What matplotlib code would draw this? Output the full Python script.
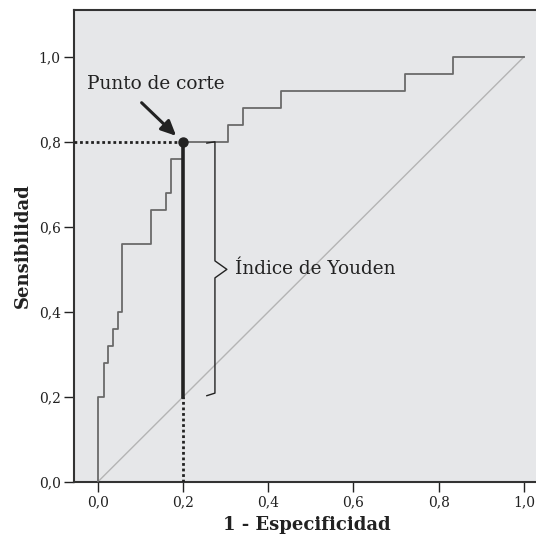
#!/usr/bin/env python3
"""ROC curve with the Youden cut-off point marked."""

import matplotlib

matplotlib.use("Agg")
import matplotlib.pyplot as plt

# ROC steps (1 - specificity, sensitivity)
fpr = [0.0, 0.0, 0.015, 0.025, 0.036, 0.048, 0.058, 0.126, 0.160, 0.171, 0.200,
       0.305, 0.340, 0.429, 0.720, 0.833, 1.0]
tpr = [0.0, 0.20, 0.28, 0.32, 0.36, 0.40, 0.56, 0.64, 0.68, 0.76, 0.80,
       0.84, 0.88, 0.92, 0.96, 1.00, 1.00]

cut_fpr = 0.2
cut_sens = 0.8

ticks = [0.0, 0.2, 0.4, 0.6, 0.8, 1.0]
tick_labels = ["0,0", "0,2", "0,4", "0,6", "0,8", "1,0"]

plt.rcParams["font.family"] = ["DejaVu Serif"]

BG = "#E6E7E9"
CURVE = "#6A6A6A"
DIAG = "#B4B4B4"
INK = "#222222"

fig = plt.figure(figsize=(5.36, 5.42), dpi=100)
ax = fig.add_axes([74 / 536, 60 / 542, 466 / 536, 472 / 542])
ax.set_facecolor(BG)

x0, x1 = -0.0556, 1.0375
y0, y1 = 0.0, 1.11
ax.set_xlim(x0, x1)
ax.set_ylim(y0, y1)

# chance line and ROC curve
ax.plot([0, 1], [0, 1], color=DIAG, linewidth=1.0, zorder=2)
ax.plot(fpr, tpr, drawstyle="steps-post", color=CURVE, linewidth=1.3, zorder=3)

# cut-off guides
dots = (0, (1, 1))
ax.plot([x0, cut_fpr], [cut_sens, cut_sens], color=INK, linewidth=2.0, linestyle=dots, zorder=4)
ax.plot([cut_fpr, cut_fpr], [y0, cut_fpr], color=INK, linewidth=2.0, linestyle=dots, zorder=4)
ax.plot([cut_fpr, cut_fpr], [cut_fpr, cut_sens], color=INK, linewidth=2.6, zorder=5)
ax.plot([cut_fpr], [cut_sens], marker="o", markersize=6.5, color=INK, zorder=6)

# brace spanning the Youden index
bx = 0.275
bh = 0.019
tip = 0.303
mid = (cut_sens + cut_fpr) / 2
ax.plot(
    [bx - bh, bx, bx, tip, bx, bx, bx - bh],
    [cut_sens - 0.003, cut_sens, mid + 0.02, mid, mid - 0.02, cut_fpr + 0.009, cut_fpr + 0.003],
    color=INK, linewidth=1.0, zorder=4,
)
ax.text(0.323, mid + 0.002, "Índice de Youden", fontsize=13.3, color=INK, va="center", ha="left")

ax.text(0.136, 0.937, "Punto de corte", fontsize=13.3, color=INK, ha="center", va="center")
ax.annotate(
    "",
    xy=(cut_fpr - 0.016, cut_sens + 0.014),
    xytext=(0.103, 0.892),
    arrowprops=dict(arrowstyle="-|>,head_length=0.9,head_width=0.42", color=INK, linewidth=2.2,
                    shrinkA=0, shrinkB=0),
    zorder=7,
)

ax.set_xticks(ticks, tick_labels)
ax.set_yticks(ticks, tick_labels)
ax.tick_params(direction="out", length=7, width=1.0, color=INK, labelsize=10, labelcolor=INK, pad=2.5)

for side in ["left", "top", "bottom"]:
    ax.spines[side].set_linewidth(1.5)
    ax.spines[side].set_color("#333333")
ax.spines["right"].set_visible(False)

ax.set_xlabel("1 - Especificidad", fontsize=13, fontweight="bold", labelpad=5, color=INK)
ax.set_ylabel("Sensibilidad", fontsize=13, fontweight="bold", labelpad=5, color=INK)

fig.savefig("out.png", dpi=100, facecolor="white")
plt.close(fig)
